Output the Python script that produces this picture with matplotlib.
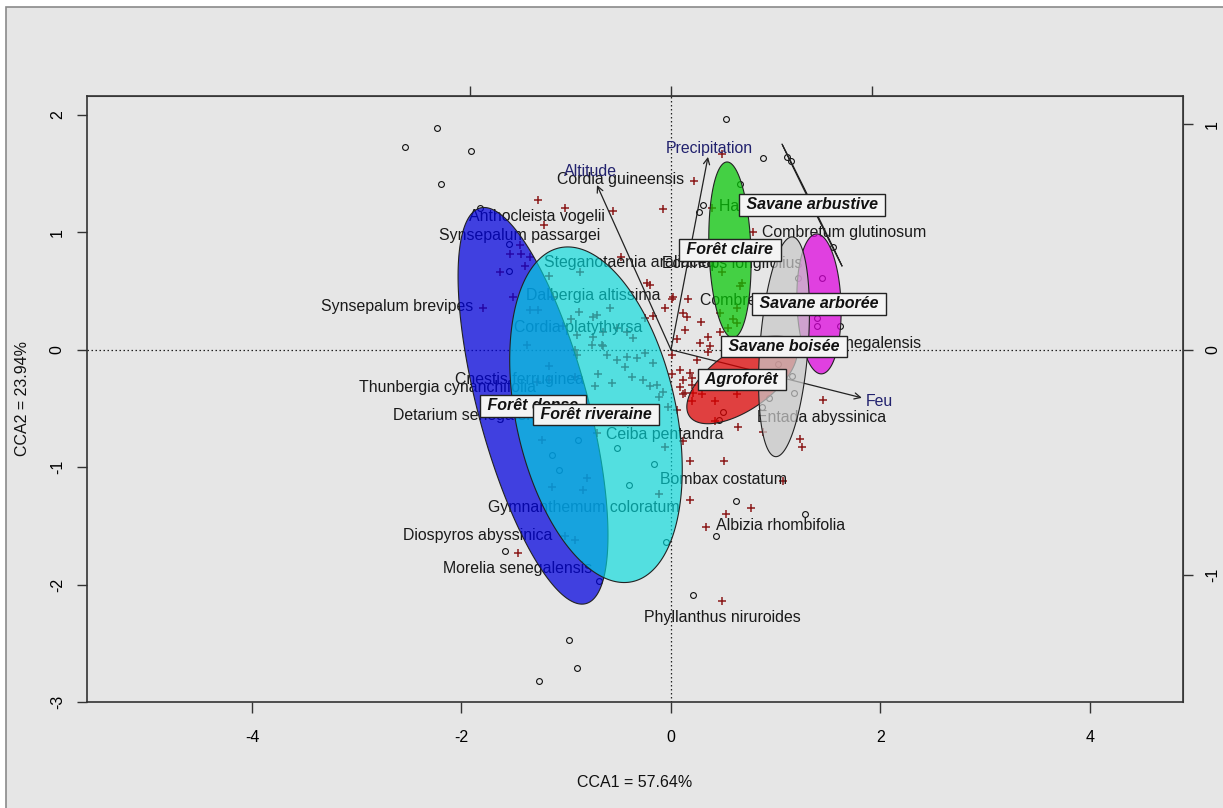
import numpy as np
import matplotlib
matplotlib.use('Agg')
import matplotlib.pyplot as plt
from matplotlib.colors import to_rgba
from matplotlib.patches import Rectangle

plt.rcParams['font.family'] = ['Liberation Sans', 'DejaVu Sans']

# ---------------- data ----------------
# site scores (open circles)
site_x = [-2.54, -2.23, -1.91, -2.20, 0.53, 0.88, 1.11, 1.15, -1.82, -1.55, -1.55,
          0.66, 0.31, 0.27, 1.55, 1.21, 1.44, 1.39, 1.39, 1.61, 1.02, 1.16, 1.17,
          0.94, 0.87, 0.50, 0.46, -0.16, 0.62, 1.28, 0.43, 0.21, -0.05, -0.89,
          -1.14, -1.07, -0.52, -0.40, -0.69, -1.58, -0.97, -0.90, -1.26]
site_y = [1.73, 1.89, 1.69, 1.41, 1.97, 1.63, 1.64, 1.61, 1.21, 0.90, 0.67,
          1.41, 1.23, 1.17, 0.88, 0.61, 0.61, 0.27, 0.20, 0.20, -0.12, -0.22, -0.37,
          -0.41, -0.49, -0.53, -0.60, -0.97, -1.29, -1.40, -1.59, -2.09, -1.64, -0.77,
          -0.90, -1.02, -0.84, -1.15, -1.97, -1.71, -2.47, -2.71, -2.82]

# species scores (crosses)
sp_x = [-1.27, -1.01, -0.55, -0.08, 0.22, 0.49, -1.21, -1.44, -1.54, -1.43, -1.35, -1.63,
        -1.39, -0.48, -0.23, -0.20, 0.01, 0.16, -0.25, -0.17, 0.11, 0.15, 0.13, -1.79,
        -1.51, -1.35, -1.27, -1.13, -0.87, -0.88, -0.58, -0.74, -0.95, -1.16, -0.65, -0.75,
        -0.66, -1.37, -0.06, 0.39, 0.78, 0.68, 0.66, 0.49, 0.63, 0.59, 0.63, 0.54, 0.47,
        0.35, 0.29, 0.02, 0.47, -0.71, -1.03, -0.90, -0.74, -0.52, -0.42, -0.36, -0.92,
        -0.90, -0.65, -0.61, -0.52, -0.42, -0.32, -0.25, -0.17, -0.37, -0.56, -0.70, -0.73,
        -0.27, -0.13, -1.16, -1.16, -1.28, -0.92, -0.44, -0.20, -0.08, -0.11, -0.03, -1.23,
        -1.14, -0.80, -0.84, -0.71, -0.06, 0.18, 0.18, -0.11, -1.01, -0.92, -1.46, 0.01,
        0.01, 0.11, 0.09, 0.20, 0.20, 0.11, 0.06, 0.20, 0.28, 0.37, 0.30, 0.42, 0.63, 0.42,
        0.64, 0.88, 0.11, 0.51, 0.53, 0.76, 0.33, 0.49, 1.45, 1.23, 1.25, 1.07, 0.35, 0.25,
        0.37, 0.40, 0.13, 0.21, 0.09, 0.18, 0.06]
sp_y = [1.28, 1.21, 1.18, 1.20, 1.44, 1.67, 1.06, 0.89, 0.82, 0.82, 0.79, 0.66,
        0.71, 0.79, 0.57, 0.55, 0.43, 0.43, 0.27, 0.29, 0.31, 0.28, 0.17, 0.36,
        0.45, 0.34, 0.34, 0.45, 0.66, 0.32, 0.36, 0.28, 0.26, 0.63, 0.15, 0.04,
        0.04, 0.04, 0.36, 1.21, 1.00, 0.57, 0.54, 0.66, 0.36, 0.26, 0.23, 0.19, 0.15,
        0.11, 0.24, 0.45, 0.31, 0.30, 0.20, 0.13, 0.11, 0.19, 0.15, 0.10, 0.00,
        -0.04, 0.03, -0.04, -0.09, -0.06, -0.07, -0.03, -0.11, -0.23, -0.28, -0.21, -0.31,
        -0.26, -0.30, -0.14, -0.26, -0.27, -0.23, -0.15, -0.31, -0.36, -0.40, -0.49, -0.77,
        -1.17, -1.09, -1.19, -0.71, -0.83, -0.95, -1.28, -1.23, -1.59, -1.62, -1.73, -0.04,
        -0.21, -0.26, -0.32, -0.24, -0.30, -0.38, -0.51, -0.44, 0.06, 0.03, -0.38, -0.44, -0.38, -0.61,
        -0.66, -0.70, -0.78, -0.95, -1.40, -1.35, -1.51, -2.14, -0.43, -0.76, -0.83, -1.12, -0.02, -0.09,
        -0.23, -0.31, -0.37, -0.37, -0.17, -0.20, 0.09]

# labelled species
lab_names = ['Cordia guineensis', 'Anthocleista vogelii', 'Synsepalum passargei',
             'Steganotaenia araliacea', 'Echinops longifolius', 'Dalbergia altissima',
             'Cordia platythyrsa', 'Synsepalum brevipes', 'Cnestis ferruginea',
             'Thunbergia cynanchifolia', 'Detarium senegalense', 'Ceiba pentandra',
             'Bombax costatum', 'Gymnanthemum coloratum', 'Albizia rhombifolia',
             'Diospyros abyssinica', 'Morelia senegalensis', 'Phyllanthus niruroides',
             'Entada abyssinica', 'Combretum glutinosum', 'Combretum nigricans',
             'Annona senegalensis', 'Hannoa undulata']
lab_x = [-0.477, -1.279, -1.442, -0.391, 0.582, -0.745, -0.888, -2.616, -1.442,
         -2.138, -1.900, -0.057, 0.506, -0.831, 1.050, -1.842, -1.461, 0.487,
         1.442, 1.652, 1.002, 1.661, 1.041]
lab_y = [1.447, 1.132, 0.970, 0.740, 0.732, 0.460, 0.187, 0.366, -0.255,
         -0.323, -0.562, -0.723, -1.106, -1.345, -1.498, -1.583, -1.864, -2.281,
         -0.579, 0.996, 0.417, 0.051, 1.217]

# environmental vectors (biplot scores, secondary-axis units)
env_names = ['Precipitation', 'Altitude', 'Feu']
env_x = [0.184, -0.368, 0.949]
env_y = [0.856, 0.731, -0.213]
env_lab_x = [0.363, -0.764, 1.986]
env_lab_y = [1.719, 1.515, -0.443]
arrow_mul = 1.92

# groups (ellipses: centre, major half-axis vector, minor half-axis vector)
grp_names = ['Agroforêt', 'Forêt claire', 'Forêt dense', 'Forêt riveraine',
             'Savane arborée', 'Savane arbustive', 'Savane boisée']
grp_cx = [0.678, 0.563, -1.317, -0.716, 1.413, 1.346, 1.079]
grp_cy = [-0.255, 0.851, -0.477, -0.553, 0.391, 1.234, 0.026]
grp_ux = [0.501, -0.029, 0.505, 0.347, -0.024, 0.286, 0.081]
grp_uy = [0.311, 0.749, -1.685, -1.422, 0.596, -0.519, 0.936]
grp_vx = [0.163, 0.200, 0.507, 0.747, 0.210, 0.004, 0.229]
grp_vy = [-0.209, 0.006, 0.121, 0.145, 0.007, 0.002, -0.016]
grp_colors = ['#de0000', '#05c805', '#0000de', '#00dcde', '#de00de', None, '#c8c8c8']
grp_alpha = [0.72, 0.72, 0.72, 0.64, 0.72, 1.0, 0.72]

# ---------------- figure ----------------
W, H = 1223, 808
fig = plt.figure(figsize=(W / 100, H / 100), dpi=100, facecolor='white')
frame = Rectangle((6 / W, -0.01), 1.1, (H - 7) / H + 0.01,
                  transform=fig.transFigure, facecolor='#e6e6e6',
                  edgecolor='#8a8a8a', lw=1.2, zorder=-10)
fig.add_artist(frame)
ax = fig.add_axes([87 / W, (H - 702) / H, 1096 / W, 606 / H])
ax.set_zorder(1)
ax.set_facecolor('#e6e6e6')
ax.set_xlim(-5.575, 4.888)
ax.set_ylim(-2.996, 2.162)

ax.axhline(0, color='#222222', ls=(0, (1.2, 2.0)), lw=0.9, zorder=1)
ax.axvline(0, color='#222222', ls=(0, (1.2, 2.0)), lw=0.9, zorder=1)

ax.plot(site_x, site_y, 'o', ms=4.2, mfc='none', mec='#111111', mew=0.8, zorder=2)
ax.plot(sp_x, sp_y, '+', ms=6, color='#8b1a1a', mew=1.1, zorder=2)

for name, x, y in zip(lab_names, lab_x, lab_y):
    ax.text(x, y, name, fontsize=11.4, color='#1a1a1a', ha='center', va='center', zorder=3)

for name, ex, ey, lx, ly in zip(env_names, env_x, env_y, env_lab_x, env_lab_y):
    ax.annotate('', xy=(ex * arrow_mul, ey * arrow_mul), xytext=(0, 0),
                arrowprops=dict(arrowstyle='->', color='#222222', lw=0.9,
                                mutation_scale=11, shrinkA=0, shrinkB=0), zorder=3)
    ax.text(lx, ly, name, fontsize=11.4, color='#22226e', ha='center', va='center', zorder=3)

t = np.linspace(0, 2 * np.pi, 240)
for i in range(len(grp_names)):
    ex = grp_cx[i] + grp_ux[i] * np.cos(t) + grp_vx[i] * np.sin(t)
    ey = grp_cy[i] + grp_uy[i] * np.cos(t) + grp_vy[i] * np.sin(t)
    if grp_colors[i] is None:
        ax.plot(ex, ey, color='#222222', lw=0.8, zorder=4)
    else:
        ax.fill(ex, ey, facecolor=to_rgba(grp_colors[i], grp_alpha[i]), edgecolor='#222222',
                lw=0.8, zorder=4)

for i, name in enumerate(grp_names):
    ax.text(grp_cx[i], grp_cy[i], ' ' + name + ' ', fontsize=11.5, fontweight='bold',
            fontstyle='italic', color='#111111', ha='center', va='center', zorder=6 + i,
            bbox=dict(boxstyle='square,pad=0.2', fc='#f4f4f4', ec='#222222', lw=1.0))

# axes styling
for s in ax.spines.values():
    s.set_color('#333333')
    s.set_linewidth(1.2)
ax.set_xticks([-4, -2, 0, 2, 4])
ax.set_xticklabels(['-4', '-2', '0', '2', '4'])
ax.set_yticks([-3, -2, -1, 0, 1, 2])
ax.set_yticklabels(['-3', '-2', '-1', '0', '1', '2'])
ax.tick_params(axis='x', length=8, width=1, color='#333333', labelsize=11.5, pad=12)
ax.tick_params(axis='y', length=7, width=1, color='#333333', labelsize=11.5, pad=9)
for lab in ax.get_yticklabels():
    lab.set_rotation(90)
    lab.set_va('center')

top = ax.secondary_xaxis('top', functions=(lambda v: v / arrow_mul, lambda v: v * arrow_mul))
top.set_xticks([-1, 0, 1])
top.tick_params(length=7, width=1, color='#333333', labeltop=False)
right = ax.secondary_yaxis('right', functions=(lambda v: v / arrow_mul, lambda v: v * arrow_mul))
right.set_yticks([-1, 0, 1])
right.set_yticklabels(['-1', '0', '1'])
right.tick_params(length=7, width=1, color='#333333', labelsize=11.5, pad=9)
for lab in right.get_yticklabels():
    lab.set_rotation(90)
    lab.set_va('center')
for s in list(top.spines.values()) + list(right.spines.values()):
    s.set_color('#555555')

ax.set_xlabel('CCA1 = 57.64%', fontsize=11.5, labelpad=22, color='#111111')
ax.set_ylabel('CCA2 = 23.94%', fontsize=11.5, labelpad=14, color='#111111')

fig.savefig('out.png', dpi=100, facecolor='white')
